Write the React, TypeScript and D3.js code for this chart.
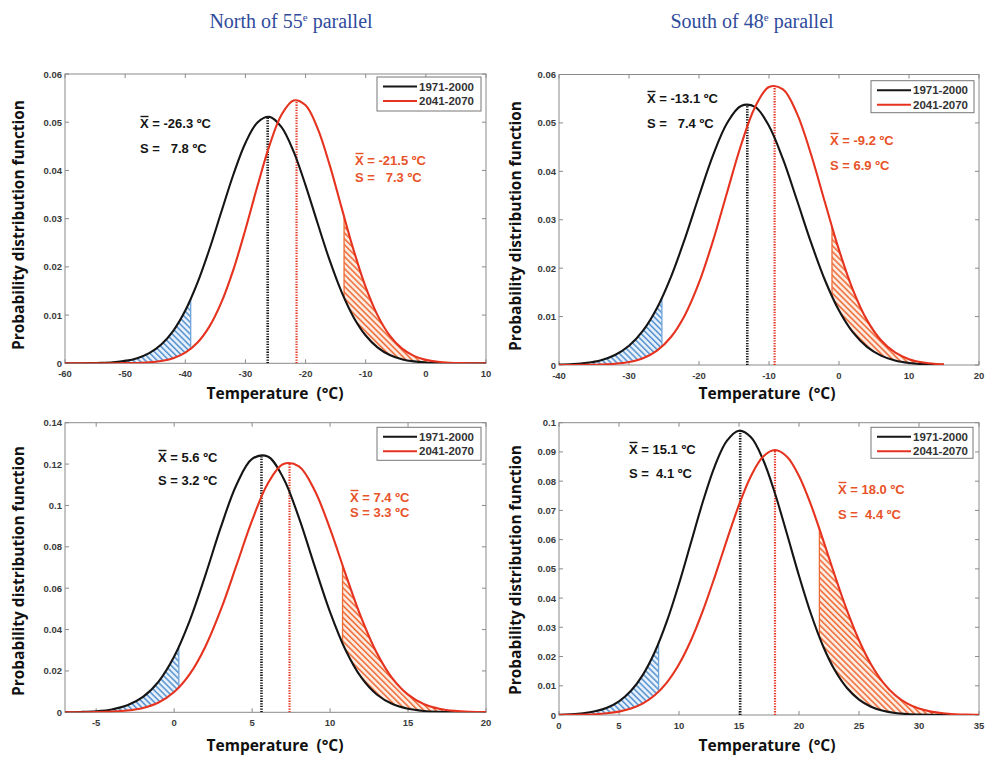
import React from 'react';
import * as d3 from 'd3';

// ---------- DATA ----------
const TITLES = ['North of 55', 'South of 48'];
const SERIES = ['1971-2000', '2041-2070'];

// Top-left panel (North of 55e, annual)
const TL_X = [-60,-58,-56,-54,-52,-50,-48,-46,-44,-42,-40,-38,-36,-34,-32,-30,-28,-26,-24,-22,-20,-18,-16,-14,-12,-10,-8,-6,-4,-2,0,2,4,6,8,10];
const TL_BLACK = [0.000005,0.000013,0.000036,0.000093,0.000225,0.000506,0.001067,0.002106,0.003896,0.006746,0.01094,0.01661,0.0236,0.03142,0.03916,0.0457,0.04994,0.05111,0.04897,0.04394,0.03691,0.02904,0.02138,0.01475,0.00952,0.00576,0.00326,0.00173,0.000859,0.000399,0.000174,0.000071,0.000027,0.00001,0.000003,0.000001];
const TL_RED = [0,0,0.000001,0.000003,0.000009,0.000027,0.000075,0.000196,0.000473,0.00106,0.0022,0.00425,0.0076,0.01262,0.01943,0.02775,0.03676,0.0452,0.05154,0.05452,0.05351,0.04872,0.04115,0.03224,0.02343,0.0158,0.00989,0.00574,0.00309,0.00154,0.000714,0.000307,0.000122,0.000045,0.000016,0.000005];

// Top-right panel (South of 48e, annual)
const TR_X = [-40,-38,-36,-34,-32,-30,-28,-26,-24,-22,-20,-18,-16,-14,-12,-10,-8,-6,-4,-2,0,2,4,6,8,10,12,14,15];
const TR_BLACK = [0.000073,0.000188,0.000449,0.000999,0.00207,0.00397,0.0071,0.01179,0.01822,0.02615,0.03491,0.0433,0.04993,0.05351,0.05332,0.04938,0.04251,0.03402,0.02531,0.0175,0.01125,0.00672,0.00373,0.00193,0.000925,0.000413,0.000171,0.000066,0.00004];
const TR_RED = [0.000003,0.00001,0.000031,0.000091,0.000246,0.000615,0.00141,0.00298,0.00579,0.01035,0.01699,0.02564,0.03558,0.04539,0.05325,0.05743,0.05695,0.05193,0.04352,0.03355,0.02377,0.01548,0.00927,0.00511,0.00259,0.0012,0.000516,0.000203,0.000123];

// Bottom-left panel (North of 55e, summer)
const BL_X = [-7,-6,-5,-4,-3,-2,-1,0,1,2,3,4,5,6,7,8,9,10,11,12,13,14,15,16,17,18,19,20];
const BL_BLACK = [0.000054,0.000175,0.000516,0.001385,0.00337,0.00743,0.01486,0.02697,0.04437,0.06621,0.08963,0.11002,0.1225,0.1237,0.11329,0.0941,0.0709,0.04845,0.03002,0.01687,0.0086,0.00398,0.00167,0.000634,0.000219,0.000068,0.000019,0.000005];
const BL_RED = [0.000009,0.000032,0.000104,0.00031,0.000843,0.00209,0.00473,0.00978,0.01843,0.0317,0.0497,0.07111,0.09279,0.11048,0.12,0.11891,0.10748,0.08864,0.06668,0.04576,0.02864,0.01636,0.00852,0.00405,0.00176,0.000695,0.00025,0.000083];

// Bottom-right panel (South of 48e, summer)
const BR_X = [0,1,2,3,4,5,6,7,8,9,10,11,12,13,14,15,16,17,18,19,20,21,22,23,24,25,26,27,28,29,30,31,32,33,34,35];
const BR_BLACK = [0.00011,0.000263,0.000591,0.00125,0.00249,0.00468,0.00829,0.01383,0.02172,0.03217,0.04489,0.05902,0.07311,0.08535,0.09386,0.09727,0.09499,0.0874,0.07577,0.0619,0.04764,0.03455,0.02361,0.0152,0.00923,0.00528,0.00284,0.00144,0.000689,0.000311,0.000132,0.000053,0.00002,0.000007,0.000002,0.000001];
const BR_RED = [0.000021,0.000052,0.000122,0.000272,0.000575,0.00115,0.0022,0.00398,0.00685,0.01119,0.01736,0.02558,0.03578,0.04754,0.05998,0.07186,0.08177,0.08836,0.09067,0.08836,0.08177,0.07186,0.05998,0.04754,0.03578,0.02558,0.01736,0.01119,0.00685,0.00398,0.0022,0.00115,0.000575,0.000272,0.000122,0.000052];

// Means, standard deviations and peak heights [1971-2000, 2041-2070]
const MEANS = [[-26.3, -21.5], [-13.1, -9.2], [5.6, 7.4], [15.1, 18.0]];
const SDS = ['7.8', '7.3', '7.4', '6.9', '3.2', '3.3', '4.1', '4.4'];
const PEAKS = [[0.0511, 0.0546], [0.0538, 0.0577], [0.1236, 0.1206], [0.0972, 0.0906]];
// Tail thresholds (hatched areas)
const LOW_T = [-39.1, -25.3, 0.3, 8.3];
const HIGH_T = [-13.6, -1.0, 10.8, 21.7];

// Axis ticks
const X_TICKS = [
  [-60, -50, -40, -30, -20, -10, 0, 10],
  [-40, -30, -20, -10, 0, 10, 20],
  [-5, 0, 5, 10, 15, 20],
  [0, 5, 10, 15, 20, 25, 30, 35],
];
const Y_TICKS = [
  [0, 0.01, 0.02, 0.03, 0.04, 0.05, 0.06],
  [0, 0.01, 0.02, 0.03, 0.04, 0.05, 0.06],
  [0, 0.02, 0.04, 0.06, 0.08, 0.1, 0.12, 0.14],
  [0, 0.01, 0.02, 0.03, 0.04, 0.05, 0.06, 0.07, 0.08, 0.09, 0.1],
];
const Y_TICK_LABELS = [
  ['0', '0.01', '0.02', '0.03', '0.04', '0.05', '0.06'],
  ['0', '0.01', '0.02', '0.03', '0.04', '0.05', '0.06'],
  ['0', '0.02', '0.04', '0.06', '0.08', '0.1', '0.12', '0.14'],
  ['0', '0.01', '0.02', '0.03', '0.04', '0.05', '0.06', '0.07', '0.08', '0.09', '0.1'],
];
const MEAN_LABELS = [
  ['-26.3', '-21.5'], ['-13.1', '-9.2'], ['5.6', '7.4'], ['15.1', '18.0'],
];

// ---------- LAYOUT / STYLE ----------
const BLACK = '#151515';
const RED = '#e5331f';
const RED_TEXT = '#e8532a';
const AXIS = '#8a8a8a';
const TICK_FONT = "'Liberation Sans', Arial, sans-serif";
const LABEL_FONT = "'Open Sans', 'Noto Sans', sans-serif";

const LAYOUT = [
  { id: 'tl', left: 65, right: 486, top: 74, bottom: 363.3, xDomain: [-60, 10], yMax: 0.06,
    ylab: [18, 225], xlab: [275, 393],
    annB: [[140, 123], [140, 148]], annR: [[355, 160], [355, 177]], sB: 'S =   ', sR: 'S =   ',
    leg: [377, 77, 104, 34] },
  { id: 'tr', left: 559, right: 979, top: 74.5, bottom: 365, xDomain: [-40, 20], yMax: 0.06,
    ylab: [515, 226], xlab: [767, 393],
    annB: [[647, 98], [647, 123]], annR: [[830, 140], [830, 165]], sB: 'S =   ', sR: 'S = ',
    leg: [871, 80.7, 103, 32] },
  { id: 'bl', left: 65, right: 486, top: 422.7, bottom: 712.3, xDomain: [-7, 20], yMax: 0.14,
    ylab: [18, 571], xlab: [275, 745],
    annB: [[158, 457], [158, 480]], annR: [[350, 497], [350, 512]], sB: 'S = ', sR: 'S = ',
    leg: [377, 427.3, 104, 33] },
  { id: 'br', left: 559, right: 979, top: 422.7, bottom: 715, xDomain: [0, 35], yMax: 0.1,
    ylab: [515, 570], xlab: [767, 745],
    annB: [[629, 449], [629, 473]], annR: [[838, 489], [838, 514]], sB: 'S =  ', sR: 'S =  ',
    leg: [871, 427.3, 102, 31] },
];

const DATA = [
  [TL_X, TL_BLACK, TL_RED],
  [TR_X, TR_BLACK, TR_RED],
  [BL_X, BL_BLACK, BL_RED],
  [BR_X, BR_BLACK, BR_RED],
];

function Annotation({ x, y, color, mean, sdText }: any) {
  return (
    <g fill={color} fontFamily={TICK_FONT} fontWeight="bold" fontSize={13} style={{ whiteSpace: 'pre' }}>
      <text x={x} y={y[0][1] + 4.5} xmlSpace="preserve">{`X = ${mean} ºC`}</text>
      <line x1={x + 0.5} x2={x + 8.5} y1={y[0][1] - 6.5} y2={y[0][1] - 6.5} stroke={color} strokeWidth={1.4} />
      <text x={x} y={y[1][1] + 4.5} xmlSpace="preserve">{sdText}</text>
    </g>
  );
}

function Panel({ k }: { k: number }) {
  const L = LAYOUT[k];
  const [xs, black, red] = DATA[k];
  const x = d3.scaleLinear().domain(L.xDomain).range([L.left, L.right]);
  const y = d3.scaleLinear().domain([0, L.yMax]).range([L.bottom, L.top]);
  const pts = xs.map((v, i) => ({ x: v, b: black[i], r: red[i] }));
  const curve = d3.curveCatmullRom;
  const lineB = d3.line<any>().x(d => x(d.x)).y(d => y(d.b)).curve(curve);
  const lineR = d3.line<any>().x(d => x(d.x)).y(d => y(d.r)).curve(curve);
  const area = d3.area<any>().x(d => x(d.x)).y0(d => y(d.r)).y1(d => y(d.b)).curve(curve);
  const bAt = d3.scaleLinear().domain(xs).range(black);
  const rAt = d3.scaleLinear().domain(xs).range(red);
  const lo = LOW_T[k], hi = HIGH_T[k];
  const [mB, mR] = MEANS[k];
  const [pB, pR] = PEAKS[k];
  const ticksX = X_TICKS[k];
  const ticksY = Y_TICKS[k];
  const tl = 4;
  const lg = L.leg;
  return (
    <g>
      <defs>
        <clipPath id={`${L.id}-plot`}><rect x={L.left} y={L.top} width={L.right - L.left} height={L.bottom - L.top} /></clipPath>
        <clipPath id={`${L.id}-lo`}><rect x={L.left} y={L.top} width={x(lo) - L.left} height={L.bottom - L.top} /></clipPath>
        <clipPath id={`${L.id}-hi`}><rect x={x(hi)} y={L.top} width={L.right - x(hi)} height={L.bottom - L.top} /></clipPath>
      </defs>
      {/* plot frame */}
      <rect x={L.left} y={L.top} width={L.right - L.left} height={L.bottom - L.top} fill="#fff" stroke={AXIS} strokeWidth={1} />
      {/* ticks */}
      {ticksX.map((t, i) => (
        <g key={'xt' + i}>
          <line x1={x(t)} x2={x(t)} y1={L.bottom} y2={L.bottom - tl} stroke={AXIS} />
          <line x1={x(t)} x2={x(t)} y1={L.top} y2={L.top + tl} stroke={AXIS} />
          <text x={x(t)} y={L.bottom + 13.5} textAnchor="middle" fontFamily={TICK_FONT} fontWeight="bold" fontSize={9.5} fill="#3a3a3a">{String(t)}</text>
        </g>
      ))}
      {ticksY.map((t, i) => (
        <g key={'yt' + i}>
          <line x1={L.left} x2={L.left + tl} y1={y(t)} y2={y(t)} stroke={AXIS} />
          <line x1={L.right} x2={L.right - tl} y1={y(t)} y2={y(t)} stroke={AXIS} />
          <text x={L.left - 3} y={y(t) + 3.5} textAnchor="end" fontFamily={TICK_FONT} fontWeight="bold" fontSize={9.5} fill="#3a3a3a">{Y_TICK_LABELS[k][i]}</text>
        </g>
      ))}
      {/* hatched tails */}
      <g clipPath={`url(#${L.id}-plot)`}>
        <path d={area(pts) || ''} fill="url(#hatchBlue)" clipPath={`url(#${L.id}-lo)`} />
        <path d={area(pts) || ''} fill="url(#hatchOrange)" clipPath={`url(#${L.id}-hi)`} />
        <line x1={x(lo)} x2={x(lo)} y1={y(rAt(lo))} y2={y(bAt(lo))} stroke="#6fa3d8" strokeWidth={1.3} />
        <line x1={x(hi)} x2={x(hi)} y1={y(bAt(hi))} y2={y(rAt(hi))} stroke="#ee6a35" strokeWidth={1.3} />
        {/* mean lines */}
        <line x1={x(mB)} x2={x(mB)} y1={y(0)} y2={y(pB)} stroke={BLACK} strokeWidth={2.6} strokeDasharray="1.3,1.3" />
        <line x1={x(mR)} x2={x(mR)} y1={y(0)} y2={y(pR)} stroke={RED} strokeWidth={2.2} strokeDasharray="1.3,1.3" />
        {/* curves */}
        <path d={lineB(pts) || ''} fill="none" stroke={BLACK} strokeWidth={2.1} />
        <path d={lineR(pts) || ''} fill="none" stroke={RED} strokeWidth={2.1} />
      </g>
      {/* legend */}
      <rect x={lg[0]} y={lg[1]} width={lg[2]} height={lg[3]} fill="#fff" stroke="#777" strokeWidth={1} />
      {SERIES.map((s, i) => {
        const ly = lg[1] + 9.5 + i * 14.5;
        return (
          <g key={s}>
            <line x1={lg[0] + 6} x2={lg[0] + 40} y1={ly} y2={ly} stroke={i === 0 ? BLACK : RED} strokeWidth={2} />
            <text x={lg[0] + 42} y={ly + 4} fontFamily={TICK_FONT} fontWeight="bold" fontSize={11.5} fill="#333">{s}</text>
          </g>
        );
      })}
      {/* annotations */}
      <Annotation x={L.annB[0][0]} y={L.annB} color={BLACK} mean={MEAN_LABELS[k][0]} sdText={`${L.sB}${SDS[k * 2]} ºC`} />
      <Annotation x={L.annR[0][0]} y={L.annR} color={RED_TEXT} mean={MEAN_LABELS[k][1]} sdText={`${L.sR}${SDS[k * 2 + 1]} ºC`} />
      {/* axis labels */}
      <text transform={`translate(${L.ylab[0]},${L.ylab[1]}) rotate(-90)`} textAnchor="middle" dy="0.35em"
        fontFamily={LABEL_FONT} fontWeight="bold" fontSize={16} fill="#111" textLength={250} lengthAdjust="spacingAndGlyphs">
        Probability distribution function
      </text>
      <text x={L.xlab[0]} y={L.xlab[1]} dy="0.35em" textAnchor="middle" fontFamily={LABEL_FONT} fontWeight="bold" fontSize={16}
        fill="#111" textLength={137} lengthAdjust="spacingAndGlyphs" style={{ whiteSpace: 'pre' }} xmlSpace="preserve">
        {'Temperature  (°C)'}
      </text>
    </g>
  );
}

export default function App() {
  return (
    <svg width={986} height={757} style={{ position: 'absolute', left: 0, top: 0, background: '#fff' }}>
      <defs>
        <pattern id="hatchBlue" patternUnits="userSpaceOnUse" width={4.2} height={4.2} patternTransform="rotate(45)">
          <rect width={4.2} height={4.2} fill="#eaf2fb" />
          <line x1={0} x2={4.2} y1={1} y2={1} stroke="#4f8fd0" strokeWidth={1.5} />
        </pattern>
        <pattern id="hatchOrange" patternUnits="userSpaceOnUse" width={4.2} height={4.2} patternTransform="rotate(45)">
          <rect width={4.2} height={4.2} fill="#fdeee4" />
          <line x1={0} x2={4.2} y1={1} y2={1} stroke="#ef6530" strokeWidth={1.5} />
        </pattern>
      </defs>
      <rect width={986} height={757} fill="#fff" />
      {TITLES.map((t, i) => (
        <text key={t} x={i === 0 ? 291 : 752} y={28} textAnchor="middle" fontFamily="'Liberation Serif', serif" fontSize={20} fill="#2f4b9c">
          {t}<tspan dy={-7} fontSize={11}>e</tspan><tspan dy={7}> parallel</tspan>
        </text>
      ))}
      {LAYOUT.map((_, k) => <Panel key={k} k={k} />)}
    </svg>
  );
}
